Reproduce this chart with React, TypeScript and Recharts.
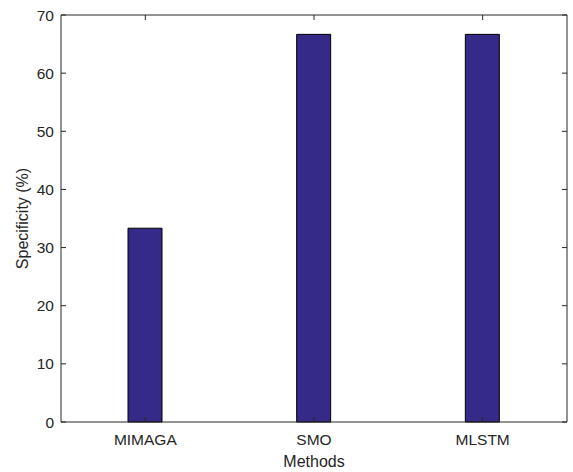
import { Bar, BarChart, XAxis, YAxis } from 'recharts';

const METHODS = ['MIMAGA', 'SMO', 'MLSTM'];
const SPECIFICITY = [33.33, 66.67, 66.67];
const Y_TICKS = [0, 10, 20, 30, 40, 50, 60, 70];

const FONT = '"Liberation Sans", Arial, Helvetica, sans-serif';
const INK = '#262626';

const chartData = METHODS.map((method, i) => ({
  method,
  specificity: SPECIFICITY[i],
}));

const NoLabel = () => <g />;

export default function App() {
  return (
    <div style={{ position: 'absolute', left: 0, top: 0, background: '#fff' }}>
      <BarChart
        width={573}
        height={472}
        data={chartData}
        margin={{ top: 14, right: 0, bottom: 0, left: 0 }}
        style={{ fontFamily: FONT }}
      >
        <XAxis
          dataKey='method'
          xAxisId='bottom'
          height={50}
          axisLine={{ stroke: INK }}
          tickLine={{ stroke: INK }}
          tickSize={-5}
          tickMargin={17}
          tick={{ fill: INK, fontSize: 15.5 }}
          label={{
            value: 'Methods',
            position: 'insideBottom',
            offset: 5,
            style: { fill: INK, fontSize: 16 },
          }}
        />
        <XAxis
          dataKey='method'
          xAxisId='top'
          orientation='top'
          height={1}
          axisLine={{ stroke: INK }}
          tickLine={{ stroke: INK }}
          tickSize={-5}
          tick={NoLabel}
        />
        <YAxis
          yAxisId='left'
          width={61}
          domain={[0, 70]}
          ticks={Y_TICKS}
          axisLine={{ stroke: INK }}
          tickLine={{ stroke: INK }}
          tickSize={-5}
          tickMargin={12}
          tick={{ fill: INK, fontSize: 15.5 }}
          label={{
            value: 'Specificity (%)',
            angle: -90,
            position: 'insideLeft',
            offset: 22,
            style: { fill: INK, fontSize: 16, textAnchor: 'middle' },
          }}
        />
        <YAxis
          yAxisId='right'
          orientation='right'
          width={6}
          domain={[0, 70]}
          ticks={Y_TICKS}
          axisLine={{ stroke: INK }}
          tickLine={{ stroke: INK }}
          tickSize={-5}
          tick={NoLabel}
        />
        <Bar
          dataKey='specificity'
          xAxisId='bottom'
          yAxisId='left'
          fill='#352A87'
          stroke='#000000'
          strokeWidth={1}
          barSize={34}
          isAnimationActive={false}
        />
        {/* invisible twin so the top/right frame axes get a domain */}
        <Bar
          dataKey='specificity'
          xAxisId='top'
          yAxisId='right'
          fill='none'
          stroke='none'
          barSize={34}
          legendType='none'
          isAnimationActive={false}
        />
      </BarChart>
    </div>
  );
}
